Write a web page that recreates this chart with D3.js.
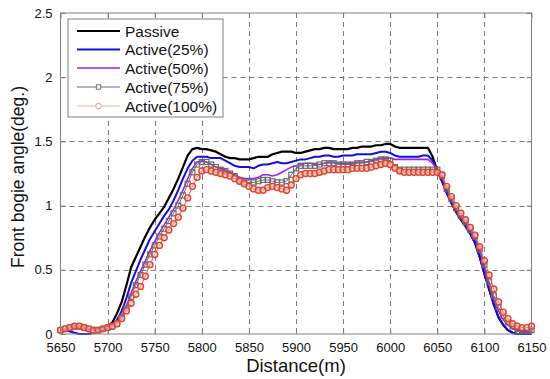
<!DOCTYPE html>
<html>
<head>
<meta charset="utf-8">
<script src="https://cdn.jsdelivr.net/npm/d3@7/dist/d3.min.js"></script>
<style>
  html, body { margin: 0; padding: 0; background: #fff; }
  svg { display: block; font-family: "Liberation Sans", Arial, sans-serif; }
</style>
</head>
<body>
<svg id="chart" width="550" height="379"></svg>
<script>
// ---------------- data ----------------
const distance = d3.range(5650, 6151, 5); // sampling positions (m)

const passive = [
  0.03,0.04,0.05,0.06,0.06,0.05,0.04,0.04,0.04,0.05,
  0.06,0.09,0.16,0.25,0.38,0.52,0.60,0.68,0.76,0.83,
  0.89,0.94,0.99,1.06,1.13,1.21,1.30,1.39,1.44,1.45,
  1.44,1.44,1.43,1.42,1.40,1.38,1.37,1.37,1.36,1.36,
  1.36,1.37,1.38,1.38,1.38,1.40,1.41,1.42,1.42,1.42,
  1.41,1.41,1.42,1.43,1.44,1.44,1.45,1.45,1.44,1.44,
  1.44,1.44,1.45,1.45,1.46,1.46,1.46,1.47,1.47,1.48,
  1.48,1.46,1.45,1.45,1.45,1.45,1.45,1.45,1.45,1.38,
  1.27,1.19,1.10,1.02,0.95,0.89,0.84,0.78,0.71,0.60,
  0.47,0.35,0.23,0.13,0.07,0.03,0.01,0.00,0.00,0.00,
  0.00
];
const active25 = [
  0.03,0.03,0.02,0.01,0.00,0.00,0.00,0.01,0.02,0.03,
  0.05,0.07,0.11,0.18,0.28,0.40,0.49,0.58,0.66,0.74,
  0.80,0.86,0.92,0.97,1.04,1.12,1.21,1.29,1.35,1.38,
  1.38,1.38,1.37,1.37,1.37,1.35,1.33,1.31,1.30,1.30,
  1.30,1.29,1.31,1.32,1.32,1.33,1.34,1.33,1.33,1.34,
  1.35,1.36,1.36,1.37,1.38,1.38,1.39,1.39,1.38,1.38,
  1.39,1.39,1.39,1.40,1.40,1.40,1.40,1.41,1.42,1.42,
  1.41,1.39,1.38,1.38,1.38,1.38,1.38,1.39,1.39,1.35,
  1.27,1.19,1.10,1.02,0.95,0.89,0.84,0.78,0.71,0.60,
  0.47,0.35,0.23,0.13,0.07,0.03,0.01,0.00,0.00,0.00,
  0.00
];
const active50 = [
  0.03,0.04,0.04,0.05,0.05,0.04,0.03,0.03,0.03,0.04,
  0.05,0.06,0.09,0.14,0.22,0.32,0.41,0.49,0.57,0.65,
  0.72,0.79,0.85,0.91,0.97,1.04,1.12,1.21,1.29,1.34,
  1.35,1.34,1.32,1.30,1.29,1.28,1.26,1.24,1.22,1.21,
  1.21,1.21,1.22,1.24,1.24,1.23,1.24,1.26,1.28,1.30,
  1.31,1.32,1.33,1.33,1.32,1.32,1.33,1.34,1.34,1.33,
  1.33,1.33,1.33,1.34,1.34,1.34,1.35,1.36,1.37,1.37,
  1.37,1.36,1.36,1.36,1.36,1.36,1.36,1.36,1.36,1.33,
  1.28,1.22,1.12,1.04,0.97,0.91,0.86,0.80,0.75,0.65,
  0.52,0.38,0.27,0.18,0.11,0.07,0.04,0.03,0.02,0.02,
  0.02
];
const active75 = [
  0.03,0.04,0.05,0.06,0.06,0.05,0.04,0.03,0.03,0.04,
  0.05,0.06,0.08,0.13,0.20,0.29,0.38,0.46,0.54,0.62,
  0.69,0.76,0.82,0.88,0.94,1.00,1.08,1.17,1.26,1.32,
  1.34,1.34,1.32,1.30,1.28,1.27,1.25,1.23,1.20,1.18,
  1.18,1.18,1.19,1.20,1.20,1.19,1.18,1.18,1.19,1.24,
  1.29,1.31,1.31,1.31,1.31,1.32,1.33,1.33,1.33,1.32,
  1.32,1.32,1.32,1.33,1.33,1.34,1.34,1.35,1.36,1.36,
  1.35,1.30,1.28,1.28,1.28,1.28,1.28,1.28,1.28,1.28,
  1.28,1.23,1.13,1.05,0.98,0.92,0.87,0.81,0.76,0.66,
  0.54,0.41,0.30,0.21,0.14,0.09,0.06,0.04,0.03,0.03,
  0.03
];
const active100 = [
  0.03,0.04,0.05,0.06,0.06,0.05,0.04,0.03,0.03,0.04,
  0.05,0.06,0.08,0.12,0.18,0.24,0.31,0.37,0.45,0.54,
  0.62,0.69,0.75,0.81,0.86,0.91,0.98,1.06,1.15,1.22,
  1.27,1.28,1.27,1.26,1.25,1.24,1.23,1.21,1.19,1.17,
  1.15,1.13,1.12,1.12,1.14,1.15,1.14,1.13,1.12,1.16,
  1.21,1.24,1.25,1.25,1.25,1.26,1.27,1.28,1.28,1.28,
  1.28,1.28,1.29,1.29,1.29,1.29,1.30,1.31,1.32,1.33,
  1.32,1.29,1.27,1.26,1.26,1.26,1.26,1.26,1.26,1.26,
  1.26,1.24,1.15,1.07,1.00,0.94,0.89,0.83,0.77,0.68,
  0.57,0.46,0.35,0.25,0.17,0.12,0.08,0.06,0.05,0.05,
  0.06
];

const seriesNames = ["Passive", "Active(25%)", "Active(50%)", "Active(75%)", "Active(100%)"];
const xTicks = [5650,5700,5750,5800,5850,5900,5950,6000,6050,6100,6150];
const yTicks = [0,0.5,1,1.5,2,2.5];
const yTickLabels = ["0","0.5","1","1.5","2","2.5"];
const xTitle = "Distance(m)";
const yTitle = "Front bogie angle(deg.)";

// ---------------- styles ----------------
const styles = [
  {color:"#000000", width:2.2, marker:null},
  {color:"#1010e0", width:2.0, marker:null},
  {color:"#a020f0", width:1.6, marker:null},
  {color:"#6a6a6a", width:1.0, marker:"square"},
  {color:"#e5402a", width:1.0, marker:"circle", lineColor:"#d86050"}
];
const seriesValues = [passive, active25, active50, active75, active100];

// ---------------- layout ----------------
const svg = d3.select("#chart");
const L = 60.5, R = 531.5, T = 13, B = 334;
const x = d3.scaleLinear().domain([5650, 6150]).range([L, R]);
const y = d3.scaleLinear().domain([0, 2.5]).range([B, T]);

svg.append("rect").attr("width",550).attr("height",379).attr("fill","#fff");
svg.append("rect").attr("x",L).attr("y",T).attr("width",R-L).attr("height",B-T).attr("fill","#fff");

// grid
const grid = svg.append("g").attr("stroke","#7a7a7a").attr("stroke-width",1).attr("stroke-dasharray","5,4");
grid.selectAll(".gx").data(xTicks.slice(1,-1)).enter().append("line")
  .attr("x1",d=>Math.round(x(d))+0.5).attr("x2",d=>Math.round(x(d))+0.5).attr("y1",T).attr("y2",B);
grid.selectAll(".gy").data(yTicks.slice(1,-1)).enter().append("line")
  .attr("y1",d=>Math.round(y(d))+0.5).attr("y2",d=>Math.round(y(d))+0.5).attr("x1",L).attr("x2",R);

// axes (ticks inward)
const axB = d3.axisBottom(x).tickValues(xTicks).tickSize(-5).tickPadding(9).tickFormat(d3.format("d"));
const axT = d3.axisTop(x).tickValues(xTicks).tickSize(-5).tickFormat("");
const axLf = d3.axisLeft(y).tickValues(yTicks).tickSize(-5).tickPadding(8).tickFormat((d,i)=>yTickLabels[i]);
const axRt = d3.axisRight(y).tickValues(yTicks).tickSize(-5).tickFormat("");
function styleAxis(g){
  g.select(".domain").remove();
  g.selectAll(".tick line").attr("stroke","#808080");
  g.selectAll(".tick text").attr("fill","#111").style("font-size","13px").style("font-family",'"Liberation Sans", Arial, sans-serif');
}
svg.append("g").attr("transform",`translate(0,${B})`).call(axB).call(styleAxis);
svg.append("g").attr("transform",`translate(0,${T})`).call(axT).call(styleAxis);
svg.append("g").attr("transform",`translate(${L},0)`).call(axLf).call(styleAxis);
svg.append("g").attr("transform",`translate(${R},0)`).call(axRt).call(styleAxis);

// series
svg.append("clipPath").attr("id","clip").append("rect")
  .attr("x",L-4).attr("y",T).attr("width",R-L+8).attr("height",B-T+4);
const plot = svg.append("g").attr("clip-path","url(#clip)");
const line = d3.line().x((d,i)=>x(distance[i])).y(d=>y(d));

seriesValues.forEach((vals, k) => {
  const s = styles[k];
  plot.append("path").datum(vals)
    .attr("fill","none").attr("stroke", s.lineColor || s.color)
    .attr("stroke-width", s.width).attr("stroke-linejoin","round")
    .attr("d", line);
  if (s.marker === "square") {
    plot.append("g").selectAll("rect").data(vals).enter().append("rect")
      .attr("x",(d,i)=>x(distance[i])-2.5).attr("y",d=>y(d)-2.5)
      .attr("width",5).attr("height",5)
      .attr("fill","none").attr("stroke",s.color).attr("stroke-width",1.2);
  } else if (s.marker === "circle") {
    plot.append("g").selectAll("circle").data(vals).enter().append("circle")
      .attr("cx",(d,i)=>x(distance[i])).attr("cy",d=>y(d)).attr("r",3)
      .attr("fill","#f6c4bc").attr("fill-opacity",0.6)
      .attr("stroke",s.color).attr("stroke-width",1.4);
  }
});

// frame
svg.append("rect").attr("x",L).attr("y",T).attr("width",R-L).attr("height",B-T)
  .attr("fill","none").attr("stroke","#808080").attr("stroke-width",1);

// legend
const lg = svg.append("g");
const lgX = 68, lgY = 19, lgW = 155, lgH = 98;
lg.append("rect").attr("x",lgX).attr("y",lgY).attr("width",lgW).attr("height",lgH)
  .attr("fill","#fff").attr("stroke","#808080").attr("stroke-width",1);
const entryY = [31, 49.5, 68, 87, 106];
seriesNames.forEach((name, k) => {
  const s = styles[k];
  const yy = entryY[k];
  lg.append("line").attr("x1",77).attr("x2",120).attr("y1",yy).attr("y2",yy)
    .attr("stroke", k===4 ? "#e8b8a8" : (s.lineColor || s.color))
    .attr("stroke-width", s.width);
  if (s.marker === "square") {
    lg.append("rect").attr("x",98.5-2.2).attr("y",yy-2.2).attr("width",4.4).attr("height",4.4)
      .attr("fill","#fff").attr("stroke",s.color).attr("stroke-width",0.9);
  } else if (s.marker === "circle") {
    lg.append("circle").attr("cx",98.5).attr("cy",yy).attr("r",2.8)
      .attr("fill","#fff").attr("stroke","#e0a090").attr("stroke-width",1);
  }
  lg.append("text").attr("x",125).attr("y",yy).attr("dy","0.36em")
    .style("font-size","15.5px").attr("fill","#111").text(name);
});

// titles
svg.append("text").attr("x",(L+R)/2).attr("y",372).attr("text-anchor","middle")
  .style("font-size","18.5px").attr("fill","#111").text(xTitle);
svg.append("text").attr("transform","translate(24,177) rotate(-90)").attr("text-anchor","middle")
  .style("font-size","17.5px").attr("fill","#111").text(yTitle);
</script>
</body>
</html>
